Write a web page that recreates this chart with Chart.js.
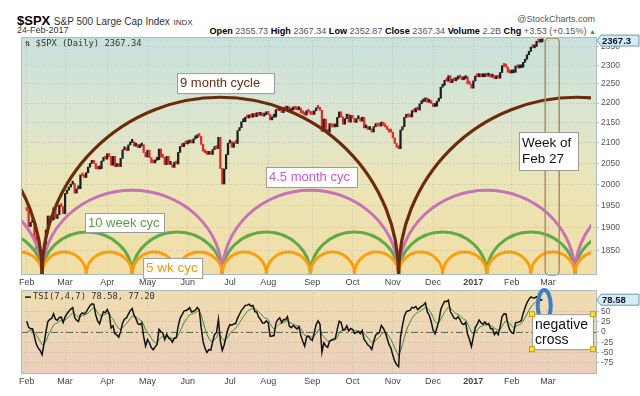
<!DOCTYPE html>
<html><head><meta charset="utf-8">
<script src="https://cdn.jsdelivr.net/npm/chart.js@4.4.0/dist/chart.umd.min.js"></script>
<style>
body{margin:0;background:#fff;width:640px;height:396px;overflow:hidden;position:relative;font-family:"Liberation Sans",Arial,sans-serif;}
canvas{position:absolute;left:0;}
#top{top:30px;}
#bot{top:283px;}
.h{position:absolute;white-space:nowrap;line-height:1;}
.v{color:#555;font-weight:normal;}
</style></head><body>
<div class="h" style="left:17px;top:14px;font-size:13px;font-weight:bold;color:#000">$SPX <span style="font-size:10px;font-weight:normal;color:#333">S&amp;P 500 Large Cap Index</span> <span style="font-size:8px;font-weight:normal;color:#333">INDX</span></div>
<div class="h" style="right:45px;top:15px;font-size:9px;color:#555">@StockCharts.com</div>
<div class="h" style="left:17px;top:26px;font-size:9px;color:#333">24-Feb-2017</div>
<div class="h" style="right:44px;top:26.5px;font-size:9.1px;font-weight:bold;color:#000">Open <span class="v">2355.73</span> High <span class="v">2367.34</span> Low <span class="v">2352.87</span> Close <span class="v">2367.34</span> Volume <span class="v">2.2B</span> Chg <span class="v">+3.53 (+0.15%)</span> <span style="color:#2a2;font-size:7px">&#9650;</span></div>
<canvas id="top" width="640" height="260"></canvas>
<canvas id="bot" width="640" height="113"></canvas>
<script>
// ---------- data ----------
const monthLabels = ['Feb','Mar','Apr','May','Jun','Jul','Aug','Sep','Oct','Nov','Dec','2017','Feb','Mar'];
const monthStarts = [0,20,42,63,84,106,126,149,170,191,212,233,253,272];
const priceTicks = [1850,1900,1950,2000,2050,2100,2150,2200,2250,2300,2350];
const tsiTicks = [-75,-50,-25,0,25,50];

// closes before the visible window (Dec 2015 - Jan 2016), used to seed the TSI(7,4,7)
const warmupCloses = [2043.41,2073.07,2041.89,2005.55,2021.15,2038.97,2064.29,2060.99,2056.50,2078.36,2063.36,2043.94,
  2012.66,2016.71,1990.26,1943.09,1922.03,1923.67,1938.68,1890.28,1921.84,1880.33,1881.33,1859.33,1868.99,1906.90,1877.08,1903.63,1882.95,1893.36,1940.24];

// daily closes, 1-Feb-2016 .. 24-Feb-2017 (trading days)
const closes = [
 1939.38,1903.03,1912.53,1915.45,1880.05,1853.44,1852.21,1851.86,1829.08,1864.78,1895.58,1926.82,1917.83,1917.78,1945.50,1921.27,1929.80,1951.70,1948.05,1932.23,
 1978.35,1986.45,1993.40,1999.99,2001.76,1979.26,1989.26,1989.57,2022.19,2019.64,2015.93,2027.22,2040.59,2049.58,2051.60,2049.80,2036.71,2035.94,2037.05,2055.01,2063.95,2059.74,
 2072.78,2066.13,2045.17,2066.66,2041.91,2047.60,2041.99,2061.72,2082.42,2082.78,2080.73,2094.34,2100.80,2102.40,2091.48,2091.58,2087.79,2091.70,2095.15,2075.81,2065.30,
 2081.43,2063.37,2051.12,2050.63,2057.14,2058.69,2084.39,2064.46,2064.11,2046.61,2066.66,2047.21,2047.63,2040.04,2052.32,2048.04,2076.06,2090.54,2090.10,2099.06,2096.95,
 2099.33,2105.26,2099.13,2109.41,2112.13,2119.12,2115.48,2096.07,2079.06,2075.32,2071.50,2077.99,2071.22,2083.25,2088.90,2085.45,2113.32,2037.41,2000.54,2036.09,2070.77,2098.86,
 2102.95,2088.55,2099.73,2097.90,2129.90,2137.16,2152.14,2152.43,2163.75,2161.74,2166.89,2163.78,2173.02,2165.17,2175.03,2168.48,2169.18,2166.58,2170.06,2173.60,
 2170.84,2157.03,2163.79,2164.25,2182.87,2180.89,2181.74,2175.49,2185.79,2184.05,2190.15,2178.15,2182.22,2187.02,2183.87,2182.64,2186.90,2175.44,2172.47,2169.04,2180.38,2176.12,2170.95,
 2170.86,2179.98,2186.48,2186.16,2181.30,2127.81,2159.04,2127.02,2125.77,2147.26,2139.16,2139.12,2139.76,2163.12,2177.18,2164.69,2146.10,2159.93,2171.37,2151.13,2168.27,
 2161.20,2150.49,2159.73,2160.77,2153.74,2163.66,2136.73,2139.18,2132.55,2132.98,2126.50,2139.60,2144.29,2141.34,2141.16,2151.33,2143.16,2139.43,2133.04,2126.41,2126.15,
 2111.72,2097.94,2088.66,2085.18,2131.52,2139.56,2163.26,2167.48,2164.45,2164.20,2180.39,2176.94,2187.12,2181.90,2198.18,2202.94,2204.72,2213.35,2201.72,2204.66,2198.81,
 2191.08,2191.95,2204.71,2212.23,2241.35,2246.19,2259.53,2256.96,2271.72,2253.28,2262.03,2258.07,2262.53,2270.76,2265.18,2260.96,2263.79,2268.88,2249.92,2249.26,2238.83,
 2257.83,2270.75,2269.00,2276.98,2268.90,2268.90,2275.32,2270.44,2274.64,2267.89,2271.89,2263.69,2271.31,2265.20,2280.07,2298.37,2296.68,2294.69,2280.90,2278.87,
 2279.55,2280.85,2297.42,2292.56,2293.08,2294.67,2307.87,2316.10,2328.25,2337.58,2349.25,2347.22,2351.16,2365.38,2362.82,2363.81,2367.34
];

// cycle troughs (trading-day index) and crest level (price) of each cycle's arcs
const nineMonthTroughs = [-172, 8, 194, 380];
const fourHalfMonthTroughs = [-86, 8, 102, 194, 286, 378];
const tenWeekTroughs = [-39, 8, 55, 102, 148, 194, 240, 286, 332];
const fiveWeekTroughs = [-15, 8, 31, 55, 78, 102, 125, 148, 171, 194, 217, 240, 263, 286, 309];
const cycleCrests = [2215, 1986, 1891, 1847];

// ---------- TSI(7,4,7) from the closes ----------
function ema(arr, n){ const k = 2/(n+1); const out = []; let p = arr[0]; for (const v of arr){ p = p + k*(v-p); out.push(p);} return out; }
const allCloses = warmupCloses.concat(closes);
const mom = [], absMom = [];
for (let i = 1; i < allCloses.length; i++){ const d = allCloses[i]-allCloses[i-1]; mom.push(d); absMom.push(Math.abs(d)); }
const ds = ema(ema(mom,7),4), dsa = ema(ema(absMom,7),4);
const tsiAll = ds.map((v,i)=> dsa[i] ? 100*v/dsa[i] : 0);
const sigAll = ema(tsiAll, 7);
const tsi = tsiAll.slice(-closes.length), tsiSignal = sigAll.slice(-closes.length);

// ---------- helpers ----------
const FONT = '"Liberation Sans", Arial, sans-serif';
const prevClose = closes.map((c,i)=> i ? closes[i-1] : warmupCloses[warmupCloses.length-1]);

const panelPlugin = {
  id: 'panel',
  beforeDraw(chart, args, o){
    const {ctx, chartArea:a} = chart;
    const g = ctx.createLinearGradient(0, a.top, 0, a.bottom);
    o.stops.forEach(s => g.addColorStop(s[0], s[1]));
    ctx.save(); ctx.fillStyle = g; ctx.fillRect(a.left, a.top, a.right-a.left, a.bottom-a.top); ctx.restore();
  },
  afterDraw(chart){
    const {ctx, chartArea:a} = chart;
    ctx.save(); ctx.strokeStyle = '#a9bcc4'; ctx.lineWidth = 1;
    ctx.strokeRect(a.left+0.5, a.top+0.5, a.right-a.left, a.bottom-a.top); ctx.restore();
  }
};

function note(ctx, left, top, w, h, lines, color, size, lh, handles){
  ctx.save();
  ctx.fillStyle = '#fff'; ctx.strokeStyle = '#9a9a9a'; ctx.lineWidth = 1;
  ctx.fillRect(left, top, w, h); ctx.strokeRect(left+0.5, top+0.5, w, h);
  ctx.fillStyle = color; ctx.font = size + 'px ' + FONT; ctx.textBaseline = 'alphabetic';
  lines.forEach((t,i) => ctx.fillText(t, left+3, top + size + 1 + i*lh));
  if (handles){
    ctx.fillStyle = '#ffdf3a'; ctx.strokeStyle = '#c9a000';
    [[left,top],[left+w,top],[left,top+h],[left+w,top+h]].forEach(p => { ctx.fillRect(p[0]-2.5,p[1]-2.5,5,5); ctx.strokeRect(p[0]-2.5,p[1]-2.5,5,5); });
  }
  ctx.restore();
}

function valueTag(ctx, xLeft, yv, text){
  ctx.save();
  ctx.beginPath(); ctx.moveTo(xLeft+1, yv); ctx.lineTo(xLeft+5, yv-5.5); ctx.lineTo(639, yv-5.5); ctx.lineTo(639, yv+5.5); ctx.lineTo(xLeft+5, yv+5.5); ctx.closePath();
  ctx.fillStyle = '#d3edf2'; ctx.fill(); ctx.strokeStyle = '#6f9aa8'; ctx.lineWidth = 1; ctx.stroke();
  ctx.fillStyle = '#113'; ctx.font = 'bold 9.5px ' + FONT; ctx.textBaseline = 'middle';
  ctx.fillText(text, xLeft+6, yv+0.5);
  ctx.restore();
}

const cycles = [
  {troughs: tenWeekTroughs, crest: cycleCrests[2], color: '#5fab48', width: 3},
  {troughs: fourHalfMonthTroughs, crest: cycleCrests[1], color: '#c474b6', width: 3},
  {troughs: fiveWeekTroughs, crest: cycleCrests[3], color: '#ff9c08', width: 3},
  {troughs: nineMonthTroughs, crest: cycleCrests[0], color: '#6c2b0b', width: 3.2}
];

const cyclePlugin = {
  id: 'cycles',
  afterDatasetsDraw(chart){
    const {ctx, chartArea:a, scales:{x, y}} = chart;
    ctx.save();
    ctx.beginPath(); ctx.rect(a.left, a.top, a.right-a.left-5, a.bottom-a.top); ctx.clip();
    cycles.forEach(c => {
      const crestY = y.getPixelForValue(c.crest);
      ctx.strokeStyle = c.color; ctx.lineWidth = c.width;
      for (let i = 0; i < c.troughs.length-1; i++){
        const x1 = x.getPixelForValue(c.troughs[i]), x2 = x.getPixelForValue(c.troughs[i+1]);
        ctx.beginPath();
        ctx.ellipse((x1+x2)/2, a.bottom, (x2-x1)/2, a.bottom-crestY, 0, Math.PI, 2*Math.PI);
        ctx.stroke();
      }
    });
    ctx.restore();
    // "week of Feb 27" marker
    const wx1 = x.getPixelForValue(270.5), wx2 = x.getPixelForValue(277.8);
    ctx.save(); ctx.strokeStyle = '#b18b62'; ctx.lineWidth = 1.5;
    ctx.beginPath(); ctx.roundRect(wx1, a.top+1, wx2-wx1, a.bottom-a.top, 4); ctx.stroke(); ctx.restore();
  },
  afterDraw(chart){
    const {ctx, chartArea:a, scales:{x, y}} = chart;
    note(ctx, x.getPixelForValue(78.4), y.getPixelForValue(2278.6), 97, 20, ['9 month cycle'], '#6c2b0b', 13, 15);
    note(ctx, x.getPixelForValue(124.8), y.getPixelForValue(2040.8), 91, 20, ['4.5 month cyc'], '#cf57cc', 13, 15);
    note(ctx, x.getPixelForValue(30.4), y.getPixelForValue(1933.6), 79, 19, ['10 week cyc'], '#5a9e45', 13, 15);
    note(ctx, x.getPixelForValue(60.7), y.getPixelForValue(1834.2), 59, 20, ['5 wk cyc'], '#ff9300', 13.5, 15);
    note(ctx, x.getPixelForValue(256.8), y.getPixelForValue(2126.4), 59, 38, ['Week of','Feb 27'], '#111', 13.5, 16);
    // legend
    ctx.save(); ctx.fillStyle = '#333'; ctx.font = '8.8px "DejaVu Sans Mono", monospace'; ctx.textBaseline = 'middle';
    ctx.fillText('\u21C5 $SPX (Daily) 2367.34', a.left+4, a.top+7); ctx.restore();
    valueTag(ctx, a.right, y.getPixelForValue(closes[closes.length-1]), '2367.3');
  }
};

const tsiPlugin = {
  id: 'tsiExtras',
  beforeDatasetsDraw(chart){
    const {ctx, chartArea:a, scales:{y}} = chart;
    const y0 = Math.round(y.getPixelForValue(0)) + 0.5;
    ctx.save(); ctx.strokeStyle = '#5d6a52'; ctx.lineWidth = 1; ctx.setLineDash([7,3,2,3]);
    ctx.beginPath(); ctx.moveTo(a.left, y0); ctx.lineTo(a.right, y0); ctx.stroke(); ctx.restore();
  },
  afterDraw(chart){
    const {ctx, chartArea:a, scales:{x, y}} = chart;
    ctx.save();
    ctx.strokeStyle = '#111'; ctx.lineWidth = 1.5; ctx.beginPath(); ctx.moveTo(a.left+4, a.top+7); ctx.lineTo(a.left+10, a.top+7); ctx.stroke();
    ctx.fillStyle = '#333'; ctx.font = '8.8px "DejaVu Sans Mono", monospace'; ctx.textBaseline = 'middle';
    ctx.fillText('TSI(7,4,7) 78.58, 77.20', a.left+12, a.top+7);
    // blue ellipse
    const cx = x.getPixelForValue(270), cy = y.getPixelForValue(64);
    ctx.strokeStyle = '#3b7fcc'; ctx.lineWidth = 4;
    ctx.beginPath(); ctx.ellipse(cx, cy, x.getPixelForValue(273.4)-cx, cy - y.getPixelForValue(102), 0, 0, 2*Math.PI); ctx.stroke();
    ctx.restore();
    note(ctx, x.getPixelForValue(263.6), y.getPixelForValue(43.3), 61, 35, ['negative','cross'], '#111', 14, 15, true);
    valueTag(ctx, a.right, y.getPixelForValue(78.58), '78.58');
  }
};

function xScale(height){
  return {
    type: 'linear', min: -3, max: 297, offset: false,
    afterBuildTicks: s => { s.ticks = monthStarts.map(v => ({value: v})); },
    afterFit: s => { s.height = height; },
    ticks: { autoSkip: false, maxRotation: 0, padding: 3, color: '#444',
      callback: v => monthLabels[monthStarts.indexOf(v)],
      font: c => ({family: FONT, size: 9, weight: (c.tick && monthLabels[monthStarts.indexOf(c.tick.value)] === '2017') ? 'bold' : 'normal'}) },
    grid: { color: '#c2c2b8', drawTicks: false, offset: false },
    border: { display: false, dash: [1,2] }
  };
}

new Chart(document.getElementById('top'), {
  type: 'bar',
  data: { datasets: [{
    data: closes.map((c,i) => ({x: i, y: [prevClose[i], c]})),
    backgroundColor: closes.map((c,i) => c >= prevClose[i] ? '#1e1e1e' : '#e02b2b'),
    barThickness: 1.6, minBarLength: 3, grouped: false
  }]},
  options: {
    responsive: false, animation: false, devicePixelRatio: 1,
    layout: { padding: {left: 21, top: 7, right: 0, bottom: 0} },
    plugins: { legend: {display: false}, tooltip: {enabled: false},
      panel: { stops: [[0,'#c8e2dd'],[0.35,'#dbe5cf'],[0.6,'#ebe5b8'],[1,'#f1dea6']] } },
    scales: {
      x: xScale(16),
      y: { type: 'logarithmic', position: 'right', min: 1800, max: 2377,
        afterBuildTicks: s => { s.ticks = priceTicks.map(v => ({value: v})); },
        afterFit: s => { s.width = 44; },
        ticks: { callback: v => String(v), color: '#555', padding: 2, font: {family: FONT, size: 8.5} },
        grid: { color: '#c2c2b8', tickLength: 3 },
        border: { display: false, dash: [1,2] } }
    }
  },
  plugins: [panelPlugin, cyclePlugin]
});

new Chart(document.getElementById('bot'), {
  type: 'line',
  data: { datasets: [
    { data: tsi.map((v,i) => ({x: i, y: v})), borderColor: '#111', borderWidth: 1.5, pointRadius: 0, tension: 0 },
    { data: tsiSignal.map((v,i) => ({x: i, y: v})), borderColor: '#3c8a3c', borderWidth: 1, pointRadius: 0, tension: 0 }
  ]},
  options: {
    responsive: false, animation: false, devicePixelRatio: 1,
    layout: { padding: {left: 21, top: 4, right: 0, bottom: 0} },
    plugins: { legend: {display: false}, tooltip: {enabled: false},
      panel: { stops: [[0,'#f0ddb0'],[1,'#ebcfbc']] } },
    scales: {
      x: xScale(23),
      y: { type: 'linear', position: 'right', min: -100, max: 102,
        afterBuildTicks: s => { s.ticks = tsiTicks.map(v => ({value: v})); },
        afterFit: s => { s.width = 44; },
        ticks: { color: '#555', padding: 2, font: {family: FONT, size: 8.5} },
        grid: { color: '#c8b8a0', tickLength: 3 },
        border: { display: false, dash: [1,2] } }
    }
  },
  plugins: [panelPlugin, tsiPlugin]
});
</script>
</body></html>
